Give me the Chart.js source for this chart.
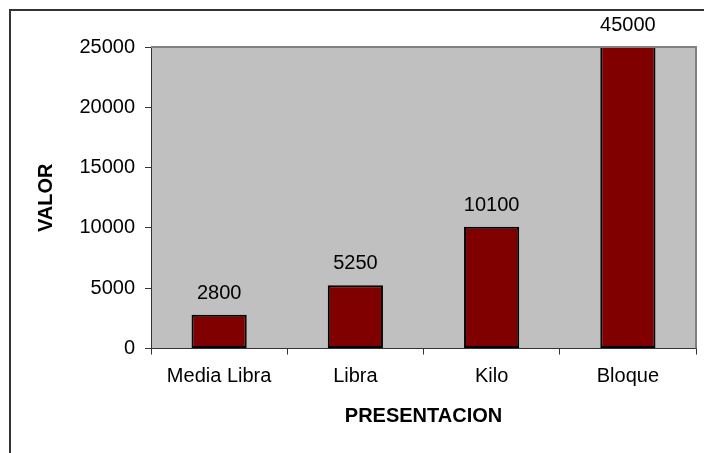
<!DOCTYPE html>
<html>
<head>
<meta charset="utf-8">
<script src="https://cdn.jsdelivr.net/npm/chart.js@4/dist/chart.umd.min.js"></script>
<style>
  html, body { margin: 0; padding: 0; background: #fff; overflow: hidden; }
  #grafico { display: block; }
</style>
</head>
<body>
<canvas id="grafico" width="704" height="453"></canvas>
<script>
const categorias = ["Media Libra", "Libra", "Kilo", "Bloque"];
const valores = [2800, 5250, 10100, 45000];
const marcasY = [0, 5000, 10000, 15000, 20000, 25000];

Chart.defaults.font.family = "'Liberation Sans', Arial, sans-serif";
Chart.defaults.color = "#000";

// fondo gris del area de trazado, marco y recuadro exterior
const marcos = {
    id: "marcos",
    beforeDraw(chart) {
        const {ctx, chartArea: a} = chart;
        ctx.save();
        ctx.fillStyle = "#c0c0c0";
        ctx.fillRect(a.left, a.top, a.right - a.left, a.bottom - a.top);
        ctx.restore();
    },
    afterDatasetsDraw(chart) {
        const {ctx, chartArea: a} = chart;
        ctx.save();
        ctx.strokeStyle = "#808080";
        ctx.lineWidth = 2;
        ctx.beginPath();
        ctx.moveTo(a.left, a.top);
        ctx.lineTo(a.right, a.top);
        ctx.lineTo(a.right, a.bottom);
        ctx.stroke();
        ctx.restore();
    },
    afterDraw(chart) {
        const ctx = chart.ctx;
        ctx.save();
        ctx.strokeStyle = "#333";
        ctx.lineWidth = 2;
        ctx.beginPath();
        ctx.moveTo(10, chart.height + 5);
        ctx.lineTo(10, 10);
        ctx.lineTo(chart.width + 5, 10);
        ctx.stroke();
        ctx.restore();
    }
};

// valor encima de cada barra
const etiquetas = {
    id: "etiquetas",
    afterDatasetsDraw(chart) {
        const {ctx, chartArea: a} = chart;
        const meta = chart.getDatasetMeta(0);
        ctx.save();
        ctx.font = "20px 'Liberation Sans', Arial, sans-serif";
        ctx.fillStyle = "#000";
        ctx.textAlign = "center";
        ctx.textBaseline = "alphabetic";
        meta.data.forEach((barra, i) => {
            const tope = Math.max(barra.y, a.top);
            ctx.fillText(String(valores[i]), barra.x, tope - 16);
        });
        ctx.restore();
    }
};

new Chart(document.getElementById("grafico"), {
    type: "bar",
    data: {
        labels: categorias,
        datasets: [{
            data: valores,
            backgroundColor: "#800000",
            borderColor: "#000",
            borderWidth: 2,
            borderSkipped: false,
            categoryPercentage: 1,
            barPercentage: 0.405,
            clip: 0
        }]
    },
    options: {
        responsive: false,
        animation: false,
        events: [],
        layout: { padding: { left: 0, top: 47, right: 8, bottom: 0 } },
        plugins: {
            legend: { display: false },
            tooltip: { enabled: false }
        },
        scales: {
            x: {
                grid: { drawOnChartArea: false, color: "#333", tickLength: 6, offset: true },
                border: { color: "#333", width: 1 },
                ticks: { font: { size: 20 }, padding: 10, color: "#000", maxRotation: 0 },
                title: {
                    display: true,
                    text: "PRESENTACION",
                    font: { size: 20, weight: "bold" },
                    color: "#000",
                    padding: { top: 0, bottom: 25 }
                },
                afterFit(eje) { eje.height = 104.5; }
            },
            y: {
                min: marcasY[0],
                max: marcasY[marcasY.length - 1],
                afterBuildTicks(eje) { eje.ticks = marcasY.map(v => ({ value: v })); },
                grid: { drawOnChartArea: false, color: "#333", tickLength: 6 },
                border: { color: "#333", width: 1 },
                ticks: {
                    font: { size: 20 },
                    padding: 10,
                    color: "#000",
                    callback: (v) => String(v)
                },
                title: {
                    display: true,
                    text: "VALOR",
                    font: { size: 20, weight: "bold" },
                    color: "#000",
                    padding: { top: 34, bottom: 0 }
                },
                afterFit(eje) { eje.width = 151; }
            }
        }
    },
    plugins: [marcos, etiquetas]
});
</script>
</body>
</html>
